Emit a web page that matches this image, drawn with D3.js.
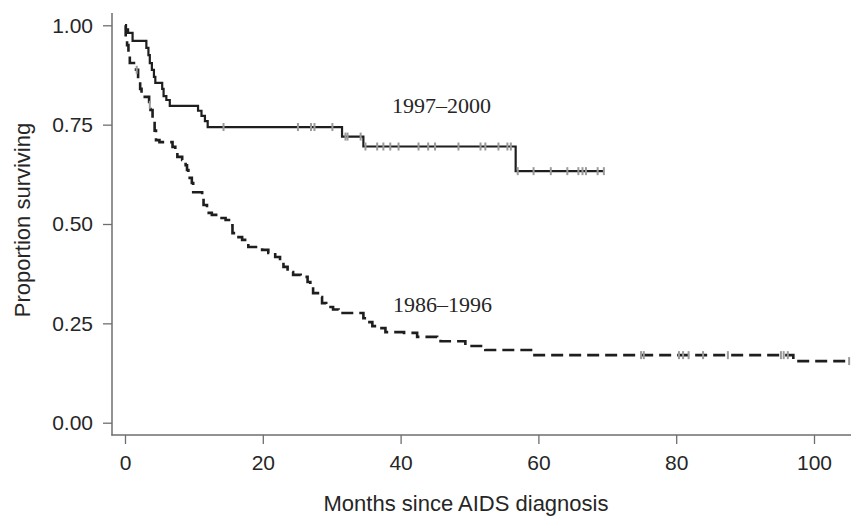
<!DOCTYPE html>
<html>
<head>
<meta charset="utf-8">
<script src="https://cdn.jsdelivr.net/npm/d3@7"></script>
<style>
  html, body { margin: 0; padding: 0; background: #fff; }
  svg { display: block; }
</style>
</head>
<body>
<svg id="chart" width="851" height="516"></svg>
<script>
// ---- Data ----
// 1997–2000 cohort (solid line): step times (months) and survival after each step
const lateTimes  = [0, 0.15, 0.45, 1.1, 3.1, 3.4, 3.6, 3.9, 4.2, 4.4, 5.4, 5.6, 6.0, 6.5, 10.6, 11.1, 11.6, 12.0, 31.5, 34.6, 56.7];
const lateValues = [1.0, 0.99, 0.981, 0.961, 0.943, 0.925, 0.905, 0.888, 0.870, 0.855, 0.840, 0.822, 0.812, 0.797, 0.785, 0.772, 0.759, 0.744, 0.720, 0.695, 0.633];
const lateEnd = 69.5;
const lateCensored = [14.3, 25.1, 27.0, 27.5, 30.1, 32.0, 32.3, 34.2, 34.9, 36.6, 37.5, 38.5, 39.7, 42.6, 44.0, 45.0, 48.4, 51.6, 52.3, 54.2, 55.5, 56.0, 57.0, 59.3, 61.8, 64.2, 65.8, 66.4, 66.9, 68.6, 69.5];

// 1986–1996 cohort (dashed line)
const earlyTimes  = [0, 0.1, 0.3, 0.5, 0.7, 1.6, 1.9, 2.2, 2.4, 3.5, 3.7, 4.0, 4.3, 4.5, 5.0, 6.9, 7.3, 7.6, 8.3, 8.8, 9.0, 9.2, 9.7, 9.9, 11.2, 11.4, 11.9, 12.6, 13.8, 14.6, 15.3, 15.6, 16.0, 17.0, 17.9, 19.9, 20.8, 21.8, 22.5, 23.0, 23.6, 24.4, 25.5, 26.5, 26.9, 27.3, 28.0, 28.6, 29.2, 30.2, 31.0, 34.6, 35.0, 35.9, 36.5, 37.8, 40.5, 42.4, 45.3, 45.8, 49.4, 51.9, 52.3, 59.2, 97.0];
const earlyValues = [1.0, 0.97, 0.95, 0.925, 0.905, 0.888, 0.86, 0.84, 0.82, 0.80, 0.787, 0.76, 0.735, 0.711, 0.706, 0.694, 0.68, 0.669, 0.661, 0.648, 0.636, 0.616, 0.603, 0.580, 0.568, 0.548, 0.528, 0.523, 0.515, 0.510, 0.497, 0.477, 0.467, 0.460, 0.442, 0.435, 0.427, 0.417, 0.404, 0.392, 0.379, 0.372, 0.367, 0.354, 0.341, 0.326, 0.316, 0.301, 0.291, 0.285, 0.276, 0.263, 0.253, 0.243, 0.238, 0.228, 0.226, 0.216, 0.213, 0.205, 0.193, 0.190, 0.183, 0.170, 0.155];
const earlyEnd = 105.5;
const earlyCensored = [1.7, 3.6, 74.9, 75.3, 80.4, 81.0, 81.8, 83.9, 87.5, 95.2, 95.6, 96.2, 105.1];

const xTicks = [0, 20, 40, 60, 80, 100];
const yTicks = [0, 0.25, 0.5, 0.75, 1.0];
const seriesLabels = ["1997–2000", "1986–1996"];

// ---- Scales ----
const svg = d3.select("#chart");
const x = d3.scaleLinear().domain([0, 100]).range([125, 814]);
const y = d3.scaleLinear().domain([0, 1]).range([422.7, 25.3]);

const axisColor = "#6e6e6e";
const textColor = "#262626";

// ---- Axes ----
const yAxis = d3.axisLeft(y).tickValues(yTicks).tickFormat(d3.format(".2f")).tickSize(9).tickPadding(10);
const gy = svg.append("g").attr("transform", "translate(112,0)").call(yAxis);
gy.select(".domain").remove();
gy.selectAll(".tick line").attr("stroke", axisColor).attr("stroke-width", 1.3);
gy.selectAll(".tick text").attr("fill", textColor)
  .style("font-family", "'Liberation Sans', Arial, sans-serif").style("font-size", "21px");
gy.append("line").attr("x1", 0).attr("x2", 0).attr("y1", 13).attr("y2", 435.5)
  .attr("stroke", axisColor).attr("stroke-width", 1.5);

const xAxis = d3.axisBottom(x).tickValues(xTicks).tickFormat(d3.format("d")).tickSize(9).tickPadding(11);
const gx = svg.append("g").attr("transform", "translate(0,435)").call(xAxis);
gx.select(".domain").remove();
gx.selectAll(".tick line").attr("stroke", axisColor).attr("stroke-width", 1.3);
gx.selectAll(".tick text").attr("fill", textColor)
  .style("font-family", "'Liberation Sans', Arial, sans-serif").style("font-size", "21px");
gx.append("line").attr("x1", 111.3).attr("x2", 851).attr("y1", 0).attr("y2", 0)
  .attr("stroke", axisColor).attr("stroke-width", 1.5);

// ---- Axis titles ----
svg.append("text").attr("transform", "translate(30,220) rotate(-90)")
  .attr("text-anchor", "middle").attr("fill", textColor)
  .style("font-family", "'Liberation Sans', Arial, sans-serif").style("font-size", "22px")
  .text("Proportion surviving");
svg.append("text").attr("x", 466).attr("y", 511)
  .attr("text-anchor", "middle").attr("fill", textColor)
  .style("font-family", "'Liberation Sans', Arial, sans-serif").style("font-size", "22px")
  .text("Months since AIDS diagnosis");

// ---- Curves ----
function toPoints(times, values, end) {
  const pts = times.map((t, i) => [t, values[i]]);
  pts.push([end, values[values.length - 1]]);
  return pts;
}
function stepAt(times, values, t) {
  let v = values[0];
  for (let i = 0; i < times.length; i++) { if (times[i] <= t) v = values[i]; }
  return v;
}
const line = d3.line().x(d => x(d[0])).y(d => y(d[1])).curve(d3.curveStepAfter);

svg.append("path").datum(toPoints(earlyTimes, earlyValues, earlyEnd))
  .attr("d", line).attr("fill", "none").attr("stroke", "#1e1e1e")
  .attr("stroke-width", 2.6).attr("stroke-dasharray", "12,6");

svg.append("path").datum(toPoints(lateTimes, lateValues, lateEnd))
  .attr("d", line).attr("fill", "none").attr("stroke", "#1e1e1e")
  .attr("stroke-width", 2.2);

// ---- Censor marks ----
function drawCensor(cens, times, values) {
  svg.append("g").selectAll("line").data(cens).join("line")
    .attr("x1", d => x(d)).attr("x2", d => x(d))
    .attr("y1", d => y(stepAt(times, values, d)) - 4)
    .attr("y2", d => y(stepAt(times, values, d)) + 4)
    .attr("stroke", "#9a9a9a").attr("stroke-width", 2);
}
drawCensor(lateCensored, lateTimes, lateValues);
drawCensor(earlyCensored, earlyTimes, earlyValues);

// ---- Series labels ----
svg.append("text").attr("x", 392).attr("y", 113).attr("fill", textColor)
  .style("font-family", "'Liberation Serif', 'Times New Roman', serif").style("font-size", "22px")
  .text(seriesLabels[0]);
svg.append("text").attr("x", 393).attr("y", 312).attr("fill", textColor)
  .style("font-family", "'Liberation Serif', 'Times New Roman', serif").style("font-size", "22px")
  .text(seriesLabels[1]);
</script>
</body>
</html>
